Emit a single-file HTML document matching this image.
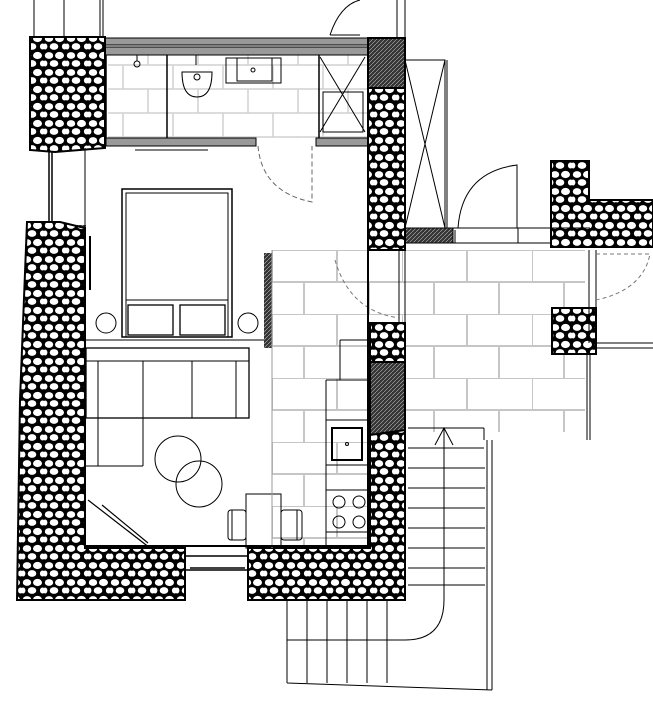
<!DOCTYPE html>
<html><head><meta charset="utf-8"><style>html,body{margin:0;padding:0;background:#fff}svg{display:block}</style></head>
<body>
<svg width="653" height="712" viewBox="0 0 653 712" xmlns="http://www.w3.org/2000/svg" fill="none" stroke="#000" stroke-width="1">
<defs>
<pattern id="st" width="22" height="17" patternUnits="userSpaceOnUse">
<rect width="22" height="17" fill="#000" stroke="none"/>
<ellipse cx="5" cy="4.5" rx="4.2" ry="3.4" fill="#fff" stroke="none"/>
<ellipse cx="15.5" cy="4.5" rx="4.5" ry="3.6" fill="#fff" stroke="none"/>
<ellipse cx="10" cy="12.5" rx="4.3" ry="3.4" fill="#fff" stroke="none"/>
<ellipse cx="20.5" cy="12.5" rx="2.6" ry="3" fill="#fff" stroke="none"/>
<ellipse cx="1.2" cy="12.5" rx="2.2" ry="3" fill="#fff" stroke="none"/>
</pattern>
<pattern id="ht" width="4" height="4" patternUnits="userSpaceOnUse">
<rect width="4" height="4" fill="#333" stroke="none"/>
<path d="M0 4L4 0" stroke="#bbb" stroke-width="0.6"/>
</pattern>
<pattern id="tl" width="130" height="64" patternUnits="userSpaceOnUse" x="272" y="250">
<path d="M0 0H130M0 32H130M0 0V32M65 0V32M32 32V64M97 32V64" stroke="#c6c6c6" stroke-width="2"/>
</pattern>
<pattern id="tb" width="100" height="48" patternUnits="userSpaceOnUse" x="108" y="55">
<path d="M0 10H100M0 34H100M15 10V34M65 10V34M40 34V58M90 34V58M40 -14V10M90 -14V10" stroke="#d0d0d0" stroke-width="1.5"/>
</pattern>
</defs>

<rect x="108" y="55" width="260" height="83" fill="url(#tb)" stroke="none"/>
<rect x="272" y="250" width="313" height="182" fill="url(#tl)" stroke="none"/>
<rect x="272" y="432" width="96" height="116" fill="url(#tl)" stroke="none"/>

<path d="M34 0V37M64 0V37M100 0V37M103 0V37" />
<path d="M397 0V37M405 0V37" />
<path d="M330 35 Q340 5 360 0M330 35H360"/>

<rect x="105" y="38" width="263" height="7" fill="#999"/>
<rect x="105" y="47" width="263" height="8" fill="#999"/>
<rect x="106" y="138" width="150" height="8" fill="#999"/>
<rect x="316" y="138" width="52" height="8" fill="#999"/>
<path d="M106 55V138M167 55V138M319 55V138" stroke-width="1.5"/>
<path d="M135 150H208"/>
<circle cx="137" cy="64" r="3"/><path d="M137 55V61"/>
<path d="M182 72 Q182 97 197 97 Q212 97 212 72Z"/><circle cx="197" cy="77" r="3"/><path d="M196 55V65"/>
<rect x="226" y="58" width="55" height="25"/><rect x="237" y="58" width="35" height="23"/><circle cx="253" cy="70" r="2"/>
<path d="M320 57L365 132M365 57L320 132"/><rect x="323" y="92" width="40" height="40"/>
<path d="M258 146 Q262 192 312 202V146" stroke="#666" stroke-dasharray="5,3"/>

<rect x="368" y="38" width="37" height="50" fill="url(#ht)" stroke="#000" stroke-width="2"/>
<rect x="370" y="360" width="35" height="75" fill="url(#ht)" stroke="#000" stroke-width="2"/>
<rect x="405" y="228" width="48" height="15" fill="url(#ht)"/>
<rect x="264" y="253" width="8" height="95" fill="url(#ht)" stroke="none"/>
<rect x="68" y="225" width="18" height="325" fill="url(#ht)" stroke="none"/>

<g fill="url(#st)" stroke="#000" stroke-width="2">
<polygon points="30,37 105,37 105,148 55,152 30,150"/>
<polygon points="368,88 405,88 405,250 368,250"/>
<polygon points="27,222 60,222 85,228 85,548 185,548 185,600 17,600 20,400"/>
<polygon points="248,548 370,548 370,435 405,430 405,600 248,600"/>
<polygon points="370,323 405,323 405,362 370,362"/>
<polygon points="551,161 589,161 589,200 653,200 653,247 551,247"/>
<polygon points="552,308 596,308 596,354 552,354"/>
</g>
<path d="M49 152V222M52 152V222" stroke-width="1.5"/>
<path d="M85 148V228" />
<path d="M185 556H248M185 570H248M190 568H245" stroke-width="1.5"/>

<rect x="405" y="60" width="40" height="168"/>
<path d="M405 60L445 228M445 60L405 228M447 60V228"/>
<path d="M455 230V243M518 228V243M405 243H550M453 228H550M590 228H550"/>
<path d="M458 228 Q462 172 517 165V228"/>
<path d="M405 250V323M399 250V323" />
<path d="M335 260 Q350 312 400 318" stroke="#777" stroke-dasharray="4,3"/>
<path d="M589 250V343M596 250V343"/>
<path d="M596 254H650 Q643 290 596 300" stroke="#777" stroke-dasharray="4,3"/>
<path d="M596 343H653M596 348H653M587 354V440M590 354V440"/>

<rect x="122" y="189" width="110" height="148" stroke-width="1.5"/>
<rect x="126" y="193" width="102" height="144"/>
<path d="M126 300H228"/>
<rect x="128" y="305" width="45" height="30" stroke-width="1.3"/><rect x="180" y="305" width="45" height="30" stroke-width="1.3"/>
<circle cx="106" cy="323" r="10"/><circle cx="248" cy="323" r="10"/>
<path d="M90 236V290" stroke-width="2"/>
<path d="M86 340H264" />
<rect x="86" y="348" width="163" height="70" stroke-width="1.3"/>
<path d="M86 361H249M98 361V466M143 361V466M192 361V418M236 361V418M86 418H143M86 466H143"/>
<circle cx="178" cy="459" r="23"/><circle cx="199" cy="484" r="23"/>
<rect x="246" y="494" width="35" height="54"/>
<rect x="228" y="510" width="18" height="30" rx="3"/><path d="M232 510V540"/>
<rect x="281" y="510" width="21" height="30" rx="3"/><path d="M297 510V540"/>
<path d="M88 500L150 548M102 505L148 543" stroke-width="1.2"/>
<path d="M272 250V548" stroke="#999"/>
<path d="M340 340V380M326 380V548M340 340H368M326 380H368M326 420H368M326 465H368M326 490H368M326 532H368"/>
<rect x="332" y="428" width="30" height="32" stroke-width="2"/><circle cx="347" cy="444" r="1.5"/>
<circle cx="339" cy="502" r="6"/><circle cx="359" cy="502" r="6"/><circle cx="339" cy="522" r="6"/><circle cx="359" cy="522" r="6"/>
<path d="M86 546H370" stroke-width="2"/>
<path d="M368 250V548" stroke-width="2"/>

<path d="M408 428H484M484 428V440M487 440V690M492 440V690M408 448H484M408 468H485M408 488H485M408 508H485M408 528H485M408 548H485M408 568H485M408 585H485"/>
<path d="M444 428V600 Q444 640 405 640H287M435 445L444 428L453 445"/>
<path d="M287 600V683M307 600V683M327 600V683M347 600V683M367 600V683M387 600V683M287 683L492 690"/>
</svg>
</body></html>
